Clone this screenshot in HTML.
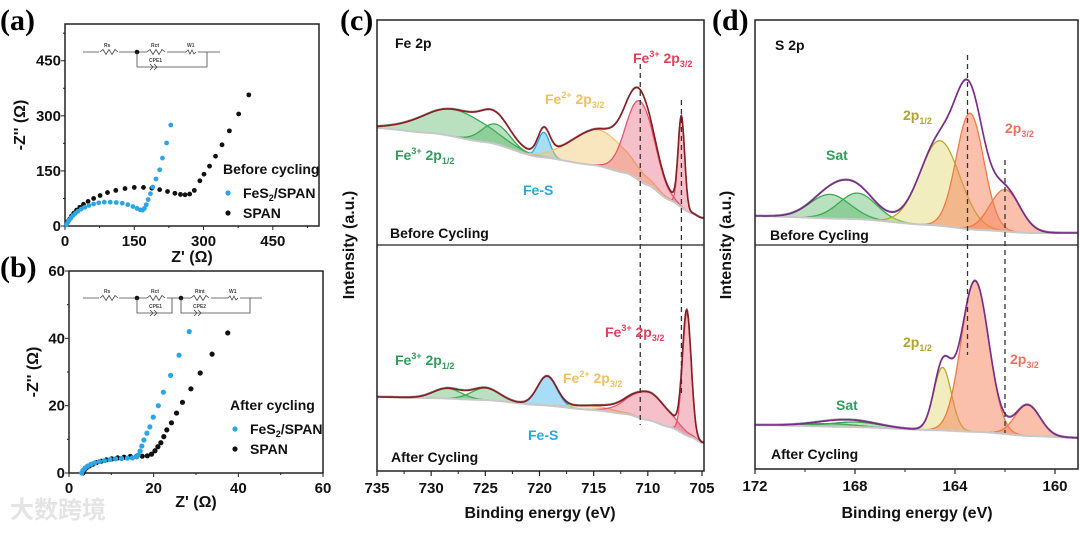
<!DOCTYPE html>
<html><head><meta charset="utf-8"><style>
body{margin:0;background:#fff}
svg text{font-family:"Liberation Sans","Noto Sans CJK SC",sans-serif;font-weight:bold}
.pl{font-family:"Liberation Serif",serif;font-size:30px;font-weight:bold}
.tk{font-size:15px}
.ax{font-size:16px}
.lb{font-size:14px}
</style></head><body>
<svg id="fig" width="1080" height="528" viewBox="0 0 1080 528" xmlns="http://www.w3.org/2000/svg">
<rect width="1080" height="528" fill="#fff"/>
<text x="0" y="30" class="pl">(a)</text>
<text x="0" y="277" class="pl">(b)</text>
<text x="340" y="30" class="pl">(c)</text>
<text x="712" y="30" class="pl">(d)</text>
<text x="10" y="518" fill="#e4e4e4" style="font-size:24px">大数跨境</text>
<g id="layer"></g>
</svg>
<script>
// ---- EIS data ----
const aFeX=[3,6,9,13,17,22,28,35,43,52,62,73,85,98,111,124,136,147,156,163,168,172,176,180,185,190,197,205,211,220,229];
const aFeY=[4,10,16,22,28,34,40,46,51,56,60,63,65,65,64,62,58,53,48,44,43,48,58,72,88,106,128,153,185,226,275];
const aSpX=[3,6,10,14,19,25,32,40,50,62,76,92,110,130,150,170,188,205,222,238,250,260,270,280,292,301,313,326,340,356,376,398];
const aSpY=[5,12,19,27,35,43,51,59,67,75,83,91,97,102,105,105,103,99,94,89,86,85,87,97,123,141,163,190,221,259,305,357];
const bFeX=[3,3.3,3.8,4.4,5.2,6.1,7.2,8.4,9.7,11,12.4,13.8,15,16,16.3,16.8,17.2,17.7,18.4,19.1,19.9,21.1,22.3,24,26,28.4];
const bFeY=[0,0.8,1.5,2.1,2.6,3.0,3.4,3.7,4.0,4.2,4.3,4.4,4.5,4.8,5.3,6.5,8,9.8,11.8,13.7,16.6,20,24,29,35,42];
const bSpX=[3.3,3.6,4.1,4.8,5.6,6.5,7.6,8.8,10.1,11.5,13,14.5,16,17.3,18.5,19.5,20.3,21,21.7,22.4,23.1,24.2,25.4,26.8,28.8,31,33.8,37.5];
const bSpY=[0,0.8,1.5,2.1,2.6,3.1,3.5,3.9,4.2,4.5,4.7,4.9,5.0,5.0,5.1,5.6,6.6,7.8,9,10.8,12.8,14.9,17.8,21,25,29.7,35.3,41.6];
const aTicks=[0,150,300,450];
const bTicks=[0,20,40,60];
// ---- XPS data ----
const feBgE=[735,730,725,720,715,712,710,708,706,705];
const feBeforeBg=[117,112,103,88,80,72,60,45,32,27];
const feBeforeC=[727.8,724,719.6,714.5,710.7,706.9];
const feBeforeH=[27,20,25,36,80,90];
const feBeforeS=[3,1.3,0.55,2.5,1.3,0.3];
const feAfterBg=[74,73,71,66,61,57,51,44,34,28];
const feAfterC=[728.5,725,719.3,715,710,706.4];
const feAfterH=[10,12,29,4,28,122];
const feAfterS=[1.3,1.3,0.9,2,1.8,0.4];
const feKinds=['g','g','b','y','r','r'];
const sBgE=[172,168,165,163,161,159];
const sBeforeBg=[29,26,20,15,12,12];
const sBeforeC=[169,167.9,164.6,163.4,162.0];
const sBeforeH=[24,26,85,116,42];
const sBeforeS=[0.8,0.75,0.8,0.55,0.6];
const sAfterBg=[44,42,39,37,33,31];
const sAfterC=[169,168,164.5,163.2,161.1];
const sAfterH=[3,5,63,151,31];
const sAfterS=[1,1,0.35,0.55,0.5];
const sKinds=['g','g','o','q','q'];
const feTicks=[735,730,725,720,715,710,705];
const sTicks=[172,168,164,160];

const NS='http://www.w3.org/2000/svg';
const L=document.getElementById('layer');
function el(tag,attrs,parent){const e=document.createElementNS(NS,tag);for(const k in attrs)e.setAttribute(k,attrs[k]);(parent||L).appendChild(e);return e;}
function lin(d0,d1,r0,r1){return v=>r0+(v-d0)*(r1-r0)/(d1-d0);}
function txt(x,y,s,cls,anchor,name,fill){const t=el('text',{x:x,y:y,'class':cls||'tk','text-anchor':anchor||'start',fill:fill||'#111'});t.textContent=s;


return t;}

// ---- EIS panels ----
function eis(box,ticks,feX,feY,spX,spY,tag,r){
  const [x0,y0,x1,y1,max]=box;
  const X=lin(0,max,x0,x1),Y=lin(0,max,y1,y0);
  const f=el('rect',{x:x0,y:y0,width:x1-x0,height:y1-y0,fill:'none',stroke:'#222','stroke-width':1.5});
  
  
  ticks.forEach((t,i)=>{
    el('line',{x1:X(t),x2:X(t),y1:y1,y2:y1+4,stroke:'#222'});
    el('line',{x1:x0-4,x2:x0,y1:Y(t),y2:Y(t),stroke:'#222'});
    txt(X(t),y1+20,String(t),'tk','middle',tag+'-x-tick');
    if(t>0)txt(x0-4,Y(t)+5,String(t),'tk','end',tag+'-y-tick');
    const m=t+(ticks[1]-ticks[0])/2;
    if(m<max){el('line',{x1:X(m),x2:X(m),y1:y1,y2:y1+2,stroke:'#222'});el('line',{x1:x0-2,x2:x0,y1:Y(m),y2:Y(m),stroke:'#222'});}
  });
  txt(x0-4,y1+5,'0','tk','end',tag+'-y-tick');
  const sg=el('g',{});
  
  
  spX.forEach((v,i)=>{const c=el('circle',{cx:X(v),cy:Y(spY[i]),r:r,fill:'#111'},sg);
    
    });
  const fg=el('g',{});
  
  
  feX.forEach((v,i)=>{const c=el('circle',{cx:X(v),cy:Y(feY[i]),r:r,fill:'#2aa6e6'},fg);
    
    });
}
eis([65,24,319,226,550],aTicks,aFeX,aFeY,aSpX,aSpY,'eis-a',2.4);
eis([69,271,323,473,60],bTicks,bFeX,bFeY,bSpX,bSpY,'eis-b',2.6);
let t=txt(25,125,"-Z'' (Ω)",'ax','middle','eis-a-y-axis-title');t.setAttribute('transform','rotate(-90 25 125)');
t=txt(38,372,"-Z'' (Ω)",'ax','middle','eis-b-y-axis-title');t.setAttribute('transform','rotate(-90 38 372)');
txt(192,262,"Z' (Ω)",'ax','middle','eis-a-x-axis-title');
txt(196,507,"Z' (Ω)",'ax','middle','eis-b-x-axis-title');
function legend(x,y,title,tag){
  txt(x,y,title,'lb','start',tag+'-legend-title');
  const c1=el('circle',{cx:x+5,cy:y+19,r:2.6,fill:'#2aa6e6'});
  
  const t1=txt(x+20,y+24,'FeS','lb','start',tag+'-legend-fes2');
  const s1=el('tspan',{'font-size':'9','dy':'3'},t1);s1.textContent='2';
  const s2=el('tspan',{'dy':'-3'},t1);s2.textContent='/SPAN';
  const c2=el('circle',{cx:x+5,cy:y+39,r:2.6,fill:'#111'});
  
  txt(x+20,y+44,'SPAN','lb','start',tag+'-legend-span');
}
legend(223,174,'Before cycling','eis-a');
legend(230,410,'After cycling','eis-b');
function zig(x,y,w){let d=`M${x},${y}`;const n=6;for(let i=1;i<=n;i++){d+=` L${x+w*i/n},${y+(i===n?0:(i%2?-2.5:2.5))}`;}return d;}
function circuit(y,nodes,tag){
  const g=el('g',{stroke:'#444','stroke-width':0.8,fill:'none'});
  
  const end=nodes.length===1?220:262;
  el('line',{x1:83,x2:end,y1:y,y2:y},g);
  el('rect',{x:99,y:y-3,width:20,height:6,fill:'#fff',stroke:'none'},g);
  el('path',{d:zig(100,y,18)},g);
  const ends=nodes.length===1?[207]:[172,250];
  nodes.forEach((n,i)=>{
    el('circle',{cx:n,cy:y,r:2.3,fill:'#111',stroke:'none'},g);
    el('rect',{x:n+10,y:y-3,width:20,height:6,fill:'#fff',stroke:'none'},g);
    el('path',{d:zig(n+10,y,18)},g);
    el('polyline',{points:`${n},${y} ${n},${y+15} ${ends[i]},${y+15} ${ends[i]},${y}`},g);
    el('path',{d:`M${n+13},${y+12} l3,3 l-3,3 M${n+17},${y+12} l3,3 l-3,3`},g);
  });
  const wx=nodes.length===1?186:228;
  el('rect',{x:wx,y:y-3,width:12,height:6,fill:'#fff',stroke:'none'},g);
  el('path',{d:`M${wx},${y} l2,-2 l2,4 l2,-4 l2,4 l2,-2`},g);
  const lab=(x,yy,s)=>{const tt=el('text',{x:x,y:yy,'font-size':'5',fill:'#444',stroke:'none'},g);tt.textContent=s;};
  lab(104,y-5,'Rs');
  nodes.forEach((n,i)=>{lab(n+14,y-5,i?'Rint':'Rct');lab(n+12,y+10,'CPE'+(i+1));});
  lab(wx+1,y-5,'W1');
}
circuit(52,[137],'circuit-diagram-a');
circuit(298,[137,181],'circuit-diagram-b');

// ---- XPS panels ----
const fillC={g:'rgba(70,175,90,0.38)',b:'rgba(60,180,235,0.45)',y:'rgba(245,200,110,0.45)',r:'rgba(232,90,115,0.38)',o:'rgba(225,215,110,0.45)',q:'rgba(245,130,90,0.5)'};
const strokeC={g:'#3aa84e',b:'#2aa6e0',y:'#f2c36a',r:'#e25672',o:'#b8aa2a',q:'#f07a45'};
function interp(E,I,e){for(let i=0;i<E.length-1;i++){const a=E[i],b=E[i+1];if((e<=a&&e>=b)||(e>=a&&e<=b)){const t=(e-a)/(b-a);const s=(1-Math.cos(Math.PI*t))/2;return I[i]+(I[i+1]-I[i])*(0.5*t+0.5*s);}}return e>E[0]===(E[0]>E[1])?I[0]:I[I.length-1];}
function spectrum(X,base,e0,e1,step,bgE,bg,C,H,S,kinds,env,tag){
  const Y=v=>base-v;
  const es=[];for(let e=e0;e>=e1-1e-9;e-=step)es.push(e);
  const bgv=es.map(e=>interp(bgE,bg,e));
  const g=el('g',{});
  
  let dbg='M'+es.map((e,i)=>X(e).toFixed(1)+','+Y(bgv[i]).toFixed(1)).join(' L');
  C.forEach((c,k)=>{
    const pk=es.map(e=>H[k]*Math.exp(-0.5*Math.pow((e-c)/S[k],2)));
    const top=es.map((e,i)=>X(e).toFixed(1)+','+Y(bgv[i]+pk[i]).toFixed(1));
    const bot=es.map((e,i)=>X(e).toFixed(1)+','+Y(bgv[i]).toFixed(1)).reverse();
    const p=el('path',{d:'M'+top.join(' L')+' L'+bot.join(' L')+'Z',fill:fillC[kinds[k]],stroke:'none'},g);
    
    
    const l=el('path',{d:'M'+top.join(' L'),fill:'none',stroke:strokeC[kinds[k]],'stroke-width':1.3},g);
    
    
  });
  const b=el('path',{d:dbg,fill:'none',stroke:'#c8c8c8','stroke-width':2},g);
  
  const tot=es.map((e,i)=>{let s=bgv[i];C.forEach((c,k)=>{s+=H[k]*Math.exp(-0.5*Math.pow((e-c)/S[k],2));});return s;});
  const pts=es.map((e,i)=>X(e).toFixed(1)+','+Y(tot[i]).toFixed(1));
  const raw=el('path',{d:'M'+es.map((e,i)=>X(e).toFixed(1)+','+(Y(tot[i])-0.8).toFixed(1)).join(' L'),fill:'none',stroke:'#888','stroke-width':1.2},g);
  
  const ev=el('path',{d:'M'+pts.join(' L'),fill:'none',stroke:env,'stroke-width':1.6},g);
  
}
const defs=el('defs',{});
function clip(id,x,y,w,h){const c=el('clipPath',{id:id},defs);el('rect',{x:x,y:y,width:w,height:h},c);}
clip('cc',377,20,327,451);clip('cd',755,20,323,449);
const Xc=lin(735,705,377,702),Xd=lin(172,160,755,1055);
const gc=el('g',{'clip-path':'url(#cc)'});const gd=el('g',{'clip-path':'url(#cd)'});


function drawIn(g,fn){const before=L.childNodes.length;fn();const nodes=[...L.childNodes].slice(before);nodes.forEach(n=>g.appendChild(n));L.appendChild(g);}
drawIn(gc,()=>{spectrum(Xc,245,735.5,704.5,0.05,feBgE,feBeforeBg,feBeforeC,feBeforeH,feBeforeS,feKinds,'#8a1c22','fe2p-before-spectrum');
 spectrum(Xc,471,735.5,704.5,0.05,feBgE,feAfterBg,feAfterC,feAfterH,feAfterS,feKinds,'#8a1c22','fe2p-after-spectrum');});
drawIn(gd,()=>{spectrum(Xd,245,172.5,158.9,0.02,sBgE,sBeforeBg,sBeforeC,sBeforeH,sBeforeS,sKinds,'#7b2a8c','s2p-before-spectrum');
 spectrum(Xd,469,172.5,158.9,0.02,sBgE,sAfterBg,sAfterC,sAfterH,sAfterS,sKinds,'#7b2a8c','s2p-after-spectrum');});
function frame(x0,y0,x1,y1,mid,ticks,X,minor,tag){
  const f=el('rect',{x:x0,y:y0,width:x1-x0,height:y1-y0,fill:'none',stroke:'#222','stroke-width':1.5});
  
  el('line',{x1:x0,x2:x1,y1:mid,y2:mid,stroke:'#222','stroke-width':1.3});
  ticks.forEach(t=>{el('line',{x1:X(t),x2:X(t),y1:y1,y2:y1+5,stroke:'#222','stroke-width':1.2});txt(X(t),y1+22,String(t),'tk','middle',tag+'-x-tick');
    const m=t+minor; if(X(m)>x0&&X(m)<x1)el('line',{x1:X(m),x2:X(m),y1:y1,y2:y1+3,stroke:'#222'});});
}
frame(377,20,704,471,245,feTicks,Xc,-2.5,'fe2p');
frame(755,20,1078,469,245,sTicks,Xd,-2,'s2p');
function dash(x,ya,yb,name){const d=el('line',{x1:x,x2:x,y1:ya,y2:yb,stroke:'#333','stroke-width':1.3,'stroke-dasharray':'5,4'});}
dash(Xc(710.7),64,425,'fe-dashed-line-1');dash(Xc(706.9),100,397,'fe-dashed-line-2');
dash(Xd(163.5),55,355,'s-dashed-line-1');dash(Xd(162.0),160,433,'s-dashed-line-2');
txt(540,518,'Binding energy (eV)','ax','middle','fe2p-x-axis-title');
txt(917,518,'Binding energy (eV)','ax','middle','s2p-x-axis-title');
t=txt(354,245,'Intensity (a.u.)','ax','middle','fe2p-y-axis-title');t.setAttribute('transform','rotate(-90 354 245)');
t=txt(731,245,'Intensity (a.u.)','ax','middle','s2p-y-axis-title');t.setAttribute('transform','rotate(-90 731 245)');
// peak labels
function plab(x,y,parts,fill,name){const tt=txt(x,y,'','lb','start',name,fill);
  let shift=0;
  parts.forEach(p=>{const target=p[1]==='sup'?-6:p[1]==='sub'?4:0;
    const s=el('tspan',{dy:String(target-shift),'font-size':p[1]==='n'?'14':'9'},tt);s.textContent=p[0];shift=target;});}
const R='#e0405a',G='#2e9e5a',Yc='#f0c060',B='#29a8e0',O='#b0a52a',S2='#f07060';
const NB='\u00a0';
txt(395,48,'Fe 2p','lb','start','fe2p-title');
plab(633,63,[['Fe','n'],['3+','sup'],[NB+'2p','n'],['3/2','sub']],R,'label-fe3-2p32-before');
plab(545,104,[['Fe','n'],['2+','sup'],[NB+'2p','n'],['3/2','sub']],Yc,'label-fe2-2p32-before');
plab(395,160,[['Fe','n'],['3+','sup'],[NB+'2p','n'],['1/2','sub']],G,'label-fe3-2p12-before');
txt(523,195,'Fe-S','lb','start','label-fes-before',B);
txt(390,238,'Before Cycling','lb','start','fe2p-before-label');
plab(605,337,[['Fe','n'],['3+','sup'],[NB+'2p','n'],['3/2','sub']],R,'label-fe3-2p32-after');
plab(395,365,[['Fe','n'],['3+','sup'],[NB+'2p','n'],['1/2','sub']],G,'label-fe3-2p12-after');
plab(563,383,[['Fe','n'],['2+','sup'],[NB+'2p','n'],['3/2','sub']],Yc,'label-fe2-2p32-after');
txt(528,440,'Fe-S','lb','start','label-fes-after',B);
txt(391,462,'After Cycling','lb','start','fe2p-after-label');
txt(775,50,'S 2p','lb','start','s2p-title');
txt(826,160,'Sat','lb','start','label-sat-before',G);
plab(903,120,[['2p','n'],['1/2','sub']],O,'label-2p12-before');
plab(1005,133,[['2p','n'],['3/2','sub']],S2,'label-2p32-before');
txt(770,240,'Before Cycling','lb','start','s2p-before-label');
plab(903,347,[['2p','n'],['1/2','sub']],O,'label-2p12-after');
plab(1010,364,[['2p','n'],['3/2','sub']],S2,'label-2p32-after');
txt(836,410,'Sat','lb','start','label-sat-after',G);
txt(771,459,'After Cycling','lb','start','s2p-after-label');
</script>
</body></html>
